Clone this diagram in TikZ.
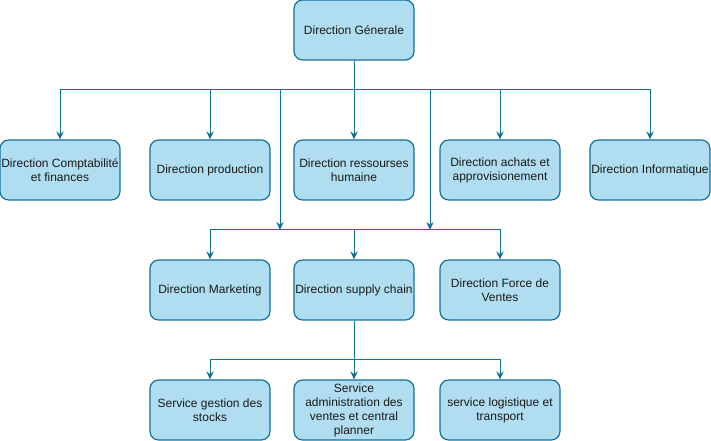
\documentclass[tikz,border=0pt]{standalone}
\usepackage{fontspec}
\setmainfont{Liberation Sans}
\usetikzlibrary{arrows.meta}
\definecolor{boxfill}{HTML}{B1DDF0}
\definecolor{boxline}{HTML}{10739E}
\definecolor{txt}{HTML}{1A1A1A}
\tikzset{
  orgbox/.style={draw=boxline, fill=boxfill, line width=0.9pt, rounded corners=6.5pt,
    minimum width=90pt, minimum height=45pt, inner sep=1pt, align=center,
    font=\fontsize{9pt}{10.5pt}\selectfont, text=txt},
  arr/.style={draw=boxline, line width=0.75pt, -{Stealth[length=6pt,width=5.5pt,inset=2pt]}},
  plain/.style={draw=boxline, line width=0.75pt}
}
\begin{document}
\begin{tikzpicture}[x=0.75pt,y=-0.75pt]
\useasboundingbox (0,0) rectangle (711,441);
\node[orgbox] (top) at (354,30) {Direction Génerale};
\node[orgbox] (c1) at (60,170) {Direction Comptabilité\\et finances};
\node[orgbox] (c2) at (210,170) {Direction production};
\node[orgbox] (c3) at (354,170) {Direction ressourses\\humaine};
\node[orgbox] (c4) at (500,170) {Direction achats et\\approvisionement};
\node[orgbox] (c5) at (650,170) {Direction Informatique};
\node[orgbox] (m1) at (210,290) {Direction Marketing};
\node[orgbox] (m2) at (354,290) {Direction supply chain};
\node[orgbox] (m3) at (500,290) {Direction Force de\\Ventes};
\node[orgbox] (s1) at (210,410) {Service gestion des\\stocks};
\node[orgbox] (s2) at (354,410) {Service\\administration des\\ventes et central\\planner};
\node[orgbox] (s3) at (500,410) {service logistique et\\transport};
\coordinate (b1) at (354,90);
\coordinate (j1) at (280,230);
\coordinate (j2) at (430,230);
\coordinate (b3) at (354,360);
\draw[arr] (top.south) -- (b1) -| (c1.north);
\draw[arr] (top.south) -- (b1) -| (c2.north);
\draw[arr] (top.south) -- (c3.north);
\draw[arr] (top.south) -- (b1) -| (c4.north);
\draw[arr] (top.south) -- (b1) -| (c5.north);
\draw[arr] (top.south) -- (b1) -| (j1);
\draw[arr] (top.south) -- (b1) -| (j2);
\draw[arr] (j1) -| (m1.north);
\draw[arr] (j1) -| (m2.north);
\draw[plain] (j2) -- (m2.north |- j2);
\draw[arr] (j2) -| (m3.north);
\draw[arr] (m2.south) -- (b3) -| (s1.north);
\draw[arr] (m2.south) -- (s2.north);
\draw[arr] (m2.south) -- (b3) -| (s3.north);
\end{tikzpicture}
\end{document}
